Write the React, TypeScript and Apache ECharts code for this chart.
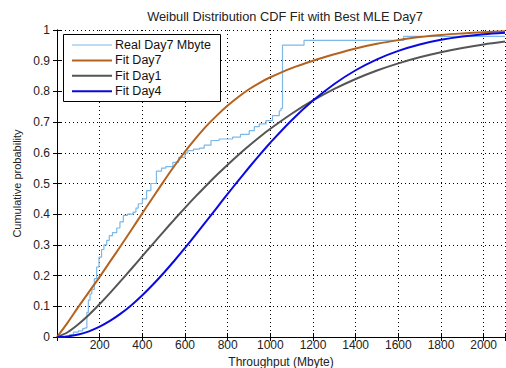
import React, { useEffect, useRef } from "react";
import * as echarts from "echarts";

const titleText = "Weibull Distribution CDF Fit with Best MLE Day7";
const xName = "Throughput (Mbyte)";
const yName = "Cumulative probability";
const seriesNames = ["Real Day7 Mbyte", "Fit Day7", "Fit Day1", "Fit Day4"];
const seriesColors = ["#7DB8E8", "#B5621E", "#555555", "#0A0AE0"];
const seriesWidths = [1.2, 2, 2, 2];

const fitX = [0, 50, 100, 150, 200, 250, 300, 350, 400, 450, 500, 550, 600, 650, 700, 750, 800, 850, 900, 950, 1000, 1100, 1200, 1300, 1400, 1500, 1600, 1700, 1800, 1900, 2000, 2100];
const fitDay7 = [0, 0.047, 0.098, 0.147, 0.196, 0.247, 0.298, 0.35, 0.403, 0.455, 0.507, 0.557, 0.604, 0.647, 0.687, 0.722, 0.754, 0.782, 0.807, 0.828, 0.846, 0.876, 0.9, 0.921, 0.94, 0.955, 0.967, 0.977, 0.984, 0.989, 0.993, 0.996];
const fitDay1 = [0, 0.0155, 0.0413, 0.0724, 0.1073, 0.1445, 0.1835, 0.2232, 0.2635, 0.3036, 0.3435, 0.3826, 0.4208, 0.4579, 0.4937, 0.5283, 0.5613, 0.5929, 0.6228, 0.6513, 0.6782, 0.7272, 0.7704, 0.8079, 0.8403, 0.868, 0.8914, 0.9112, 0.9277, 0.9415, 0.9529, 0.9622];
const fitDay4 = [0, 0.0019, 0.0079, 0.0185, 0.0336, 0.0531, 0.0769, 0.1046, 0.1361, 0.1708, 0.2085, 0.2484, 0.2902, 0.3334, 0.3774, 0.4217, 0.466, 0.5095, 0.5521, 0.5934, 0.6329, 0.706, 0.77, 0.8243, 0.8689, 0.9045, 0.932, 0.9528, 0.968, 0.9789, 0.9864, 0.9914];

const realX = [0, 40, 60, 77, 100, 120, 131, 140, 147, 155, 163, 175, 186, 197, 209, 220, 233, 245, 260, 280, 295, 311, 330, 357, 370, 381, 400, 420, 440, 466, 490, 510, 543, 570, 600, 613, 640, 668, 690, 722, 760, 823, 860, 901, 925, 948, 980, 1010, 1042, 1050, 1057, 1158, 1625, 2100];
const realY = [0, 0.003, 0.008, 0.016, 0.02, 0.027, 0.03, 0.08, 0.12, 0.14, 0.155, 0.19, 0.228, 0.26, 0.285, 0.3, 0.315, 0.33, 0.34, 0.355, 0.375, 0.396, 0.4, 0.407, 0.42, 0.434, 0.45, 0.477, 0.5, 0.54, 0.55, 0.555, 0.569, 0.585, 0.6, 0.607, 0.612, 0.615, 0.625, 0.64, 0.645, 0.651, 0.66, 0.672, 0.685, 0.694, 0.705, 0.721, 0.737, 0.745, 0.951, 0.966, 0.979, 0.98];

const FONT = "'Liberation Sans', Arial, sans-serif";

export default function App() {
  const ref = useRef<HTMLDivElement>(null);
  useEffect(() => {
    if (!ref.current) return;
    const chart = echarts.init(ref.current, undefined, { renderer: "svg" });
    const pair = (xs: number[], ys: number[]) => xs.map((x, i) => [x, ys[i]]);
    const axisCommon = {
      axisLine: { show: true, lineStyle: { color: "#000", width: 1 } },
      axisTick: { show: true, inside: true, length: 4, lineStyle: { color: "#000" } },
    };
    const legendRows = seriesNames.map((name, i) => {
      const y = 45 + i * 15.4;
      return [
        {
          type: "line",
          shape: { x1: 72, y1: y, x2: 112, y2: y },
          style: { stroke: seriesColors[i], lineWidth: seriesWidths[i] },
          z: 101,
        },
        {
          type: "text",
          x: 115,
          y: y,
          style: { text: name, font: `12.5px ${FONT}`, fill: "#111", textVerticalAlign: "middle" },
          z: 101,
        },
      ];
    }).flat();
    chart.setOption({
      animation: false,
      backgroundColor: "#fff",
      textStyle: { fontFamily: FONT },
      graphic: [
        {
          type: "text",
          x: 285,
          y: 16,
          style: { text: titleText, font: `12.8px ${FONT}`, fill: "#222", textAlign: "center", textVerticalAlign: "middle" },
        },
        {
          type: "rect",
          shape: { x: 63.5, y: 34.5, width: 157, height: 67 },
          style: { fill: "#fff", stroke: "#000", lineWidth: 1 },
          z: 100,
        },
        ...legendRows,
      ],
      grid: { left: 57, right: 1, top: 30, bottom: 31, containLabel: false, outerBoundsMode: "none" },
      xAxis: [
        {
          type: "value",
          min: 0,
          max: 2100,
          interval: 200,
          name: xName,
          nameLocation: "middle",
          nameGap: 15,
          nameTextStyle: { fontSize: 12, color: "#222", fontFamily: FONT },
          ...axisCommon,
          axisLabel: {
            fontSize: 12,
            color: "#222",
            margin: 2,
            fontFamily: FONT,
            formatter: (v: number) => (v === 0 || v > 2000 ? "" : String(v)),
          },
          splitLine: { show: true, lineStyle: { color: "#000", type: [1, 3], width: 1 } },
        },
        {
          type: "value",
          position: "top",
          min: 0,
          max: 2100,
          interval: 200,
          ...axisCommon,
          axisLabel: { show: false },
          splitLine: { show: false },
        },
      ],
      yAxis: [
        {
          type: "value",
          min: 0,
          max: 1,
          interval: 0.1,
          name: yName,
          nameLocation: "middle",
          nameRotate: 90,
          nameGap: 28,
          nameTextStyle: { fontSize: 11, color: "#222", fontFamily: FONT },
          ...axisCommon,
          axisLabel: {
            fontSize: 12,
            color: "#222",
            margin: 7,
            fontFamily: FONT,
            formatter: (v: number) => String(Math.round(v * 10) / 10),
          },
          splitLine: { show: true, lineStyle: { color: "#000", type: [1, 3], width: 1 } },
        },
        {
          type: "value",
          position: "right",
          min: 0,
          max: 1,
          interval: 0.1,
          ...axisCommon,
          axisLabel: { show: false },
          splitLine: { show: false },
        },
      ],
      series: [
        {
          name: seriesNames[0],
          type: "line",
          step: "end",
          symbol: "none",
          data: pair(realX, realY),
          lineStyle: { color: seriesColors[0], width: seriesWidths[0] },
          itemStyle: { color: seriesColors[0] },
          z: 2,
        },
        {
          name: seriesNames[1],
          type: "line",
          smooth: 0.3,
          symbol: "none",
          data: pair(fitX, fitDay7),
          lineStyle: { color: seriesColors[1], width: seriesWidths[1] },
          itemStyle: { color: seriesColors[1] },
          z: 3,
        },
        {
          name: seriesNames[2],
          type: "line",
          smooth: 0.3,
          symbol: "none",
          data: pair(fitX, fitDay1),
          lineStyle: { color: seriesColors[2], width: seriesWidths[2] },
          itemStyle: { color: seriesColors[2] },
          z: 3,
        },
        {
          name: seriesNames[3],
          type: "line",
          smooth: 0.3,
          symbol: "none",
          data: pair(fitX, fitDay4),
          lineStyle: { color: seriesColors[3], width: seriesWidths[3] },
          itemStyle: { color: seriesColors[3] },
          z: 3,
        },
      ],
    });
    return () => chart.dispose();
  }, []);
  return <div ref={ref} style={{ width: 506, height: 368, position: "fixed", left: 0, top: 0 }} />;
}
